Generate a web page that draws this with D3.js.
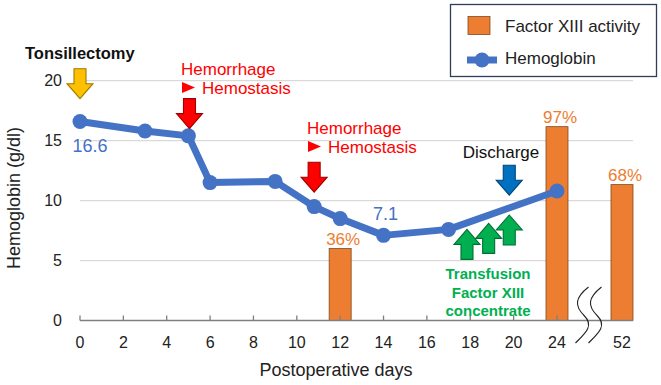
<!DOCTYPE html>
<html><head><meta charset="utf-8">
<script src="https://cdn.jsdelivr.net/npm/d3@7"></script>
<style>html,body{margin:0;padding:0;background:#fff;}svg{display:block;font-family:"Liberation Sans",Arial,sans-serif;}</style>
</head><body>
<script>
// ---- data ----
const hbDays = [0, 3, 5, 6, 9, 10.8, 12, 14, 17, 24];
const hemoglobin = [16.6, 15.8, 15.4, 11.5, 11.6, 9.5, 8.5, 7.1, 7.6, 10.8];
const factorDays = [12, 24, 52];
const factorXIII = [36, 97, 68];
const xTicks = [0, 2, 4, 6, 8, 10, 12, 14, 16, 18, 20, 24, 52];
const yTicks = [0, 5, 10, 15, 20];
const hbLabels = [{day: 0, value: 16.6, text: "16.6"}, {day: 14, value: 7.1, text: "7.1"}];
const downArrows = [
  {day: 0, tip: 18.5, color: "#FFC000"},
  {day: 5.05, tip: 16.0, color: "#FF0000"},
  {day: 10.8, tip: 10.7, color: "#FF0000"},
  {day: 19.8, tip: 10.45, color: "#0070C0"}
];
const upArrows = [
  {day: 17.85, tip: 7.6},
  {day: 18.85, tip: 8.1},
  {day: 19.8, tip: 8.8}
];

const W = 661, H = 385;
const svg = d3.select("body").append("svg").attr("width", W).attr("height", H);

const x = d3.scaleLinear().domain([0, 20, 24, 52]).range([80, 513.6, 557, 622]);
const y = d3.scaleLinear().domain([0, 20]).range([320.5, 80.7]);
const yPct = d3.scaleLinear().domain([0, 120]).range([320.5, 80.7]);
const gridRight = 633;

// gridlines
svg.append("g").selectAll("line").data(yTicks.filter(d => d > 0)).join("line")
  .attr("x1", x(0)).attr("x2", gridRight)
  .attr("y1", d => y(d)).attr("y2", d => y(d))
  .attr("stroke", "#D9D9D9").attr("stroke-width", 1.3);

// y tick labels
svg.append("g").selectAll("text").data(yTicks).join("text")
  .attr("x", 62).attr("y", d => y(d)).attr("dy", "0.35em")
  .attr("text-anchor", "end").attr("font-size", 16).attr("fill", "#222")
  .text(d => d);

// bars
svg.append("g").selectAll("rect").data(factorDays).join("rect")
  .attr("x", d => x(d) - 11).attr("width", 22)
  .attr("y", (d, i) => yPct(factorXIII[i]))
  .attr("height", (d, i) => yPct(0) - yPct(factorXIII[i]))
  .attr("fill", "#ED7D31").attr("stroke", "#7F4A1E").attr("stroke-width", 0.8);

// x axis line & ticks
svg.append("line").attr("x1", x(0)).attr("x2", gridRight).attr("y1", y(0)).attr("y2", y(0))
  .attr("stroke", "#7F7F7F").attr("stroke-width", 1.3);
svg.append("g").selectAll("line").data(xTicks.filter(d => d !== 52)).join("line")
  .attr("x1", d => x(d)).attr("x2", d => x(d))
  .attr("y1", y(0)).attr("y2", y(0) - 5)
  .attr("stroke", "#7F7F7F").attr("stroke-width", 1.3);
svg.append("g").selectAll("text").data(xTicks).join("text")
  .attr("x", d => x(d)).attr("y", 348)
  .attr("text-anchor", "middle").attr("font-size", 16).attr("fill", "#222")
  .text(d => d);

// axis break (wavy lines)
const brk = (x(24) + x(52)) / 2;
[-6, 7].forEach(off => {
  const cx = brk + off;
  svg.append("path")
    .attr("d", `M${cx + 5},287 C${cx - 9},298 ${cx - 9},306 ${cx + 1},316 S${cx + 1},334 ${cx - 8},343`)
    .attr("fill", "none").attr("stroke", "#222").attr("stroke-width", 1.1);
});

// hemoglobin line
const pts = hbDays.map((d, i) => [x(d), y(hemoglobin[i])]);
svg.append("path").attr("d", d3.line()(pts))
  .attr("fill", "none").attr("stroke", "#4472C4").attr("stroke-width", 7).attr("stroke-linejoin", "round");
svg.append("g").selectAll("circle").data(pts).join("circle")
  .attr("cx", d => d[0]).attr("cy", d => d[1]).attr("r", 7.5).attr("fill", "#4472C4");

// value labels
svg.append("text").attr("x", x(0) + 10).attr("y", y(16.6) + 31).attr("text-anchor", "middle")
  .attr("font-size", 18).attr("fill", "#4472C4").text(hbLabels[0].text);
svg.append("text").attr("x", x(14) + 2).attr("y", y(7.1) - 15).attr("text-anchor", "middle")
  .attr("font-size", 18).attr("fill", "#4472C4").text(hbLabels[1].text);
svg.append("g").selectAll("text").data(factorDays).join("text")
  .attr("x", d => x(d) + 3).attr("y", (d, i) => yPct(factorXIII[i]) - 4)
  .attr("text-anchor", "middle").attr("font-size", 17).attr("fill", "#ED7D31")
  .text((d, i) => factorXIII[i] + "%");

// block arrows
function blockArrow(cx, tipY, dir, color) {
  const L = 30, sw = 12, hw = 26, hl = 15;
  const s = dir; // +1 down (tip at bottom), -1 up
  const base = tipY - s * L, neck = tipY - s * hl;
  const p = [[cx - sw / 2, base], [cx + sw / 2, base], [cx + sw / 2, neck], [cx + hw / 2, neck],
    [cx, tipY], [cx - hw / 2, neck], [cx - sw / 2, neck]];
  svg.append("path").attr("d", "M" + p.join("L") + "Z")
    .attr("fill", color).attr("stroke", d3.color(color).darker(1.3)).attr("stroke-width", 1.1)
    .attr("stroke-linejoin", "miter");
}
downArrows.forEach(a => blockArrow(x(a.day), y(a.tip), 1, a.color));
upArrows.forEach(a => blockArrow(x(a.day), y(a.tip), -1, "#00B050"));

// annotation texts
svg.append("text").attr("x", 25).attr("y", 59).attr("font-size", 16.5).attr("font-weight", "bold")
  .attr("fill", "#111").text("Tonsillectomy");

function hemoLabel(x0, y0) {
  svg.append("text").attr("x", x0).attr("y", y0).attr("font-size", 17).attr("fill", "#FF0000").text("Hemorrhage");
  svg.append("path").attr("d", `M${x0 + 1},${y0 + 7}L${x0 + 14},${y0 + 12.5}L${x0 + 1},${y0 + 18}Z`).attr("fill", "#FF0000");
  svg.append("text").attr("x", x0 + 21).attr("y", y0 + 18.5).attr("font-size", 17).attr("fill", "#FF0000").text("Hemostasis");
}
hemoLabel(181, 75);
hemoLabel(307, 134);

svg.append("text").attr("x", 501).attr("y", 158).attr("text-anchor", "middle")
  .attr("font-size", 17).attr("fill", "#111").text("Discharge");

["Transfusion", "Factor XIII", "concentrate"].forEach((t, i) => {
  svg.append("text").attr("x", 488).attr("y", 279 + i * 18.5).attr("text-anchor", "middle")
    .attr("font-size", 15).attr("font-weight", "bold").attr("fill", "#00B050").text(t);
});

// axis titles
svg.append("text").attr("x", 336).attr("y", 376).attr("text-anchor", "middle")
  .attr("font-size", 18).attr("fill", "#222").text("Postoperative days");
svg.append("text").attr("transform", "translate(20,198) rotate(-90)").attr("text-anchor", "middle")
  .attr("font-size", 18).attr("fill", "#222").text("Hemoglobin (g/dl)");

// legend
const lg = svg.append("g");
lg.append("rect").attr("x", 450.5).attr("y", 4.5).attr("width", 206).attr("height", 72)
  .attr("fill", "#fff").attr("stroke", "#2E3D5C").attr("stroke-width", 1.3);
lg.append("rect").attr("x", 468).attr("y", 16.5).attr("width", 22).attr("height", 18)
  .attr("fill", "#ED7D31").attr("stroke", "#7F4A1E").attr("stroke-width", 0.8);
lg.append("text").attr("x", 505).attr("y", 32).attr("font-size", 17).attr("fill", "#222").text("Factor XIII activity");
lg.append("line").attr("x1", 467).attr("x2", 497).attr("y1", 60).attr("y2", 60)
  .attr("stroke", "#4472C4").attr("stroke-width", 7);
lg.append("circle").attr("cx", 482).attr("cy", 60).attr("r", 7.5).attr("fill", "#4472C4");
lg.append("text").attr("x", 505).attr("y", 64).attr("font-size", 17).attr("fill", "#222").text("Hemoglobin");
</script>
</body></html>
